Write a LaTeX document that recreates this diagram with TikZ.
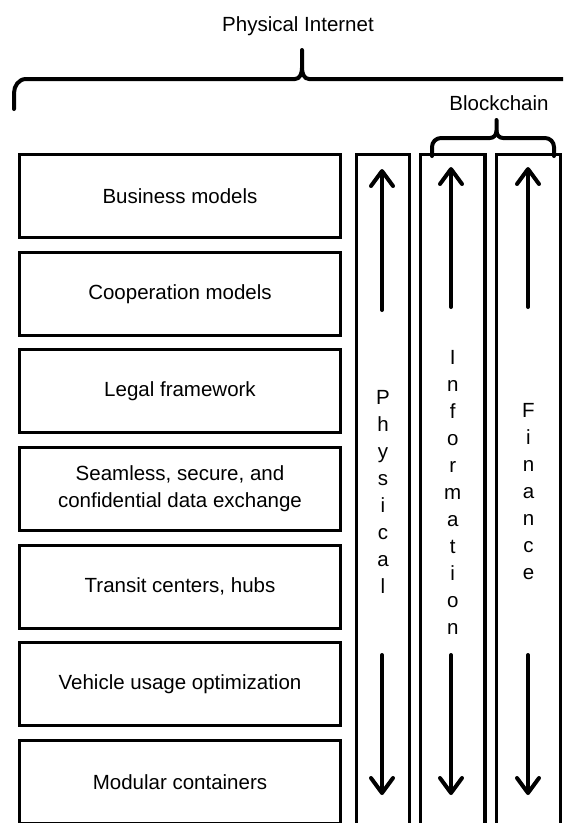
\documentclass[tikz,border=0pt]{standalone}
\usepackage{fontspec}
\setmainfont{Liberation Sans}
\usetikzlibrary{arrows.meta}
\begin{document}
\begin{tikzpicture}[x=1pt,y=-1pt,
  txt/.style={font=\fontsize{20.5}{27}\selectfont},
  lbox/.style={txt, draw, line width=3.3pt, minimum width=321pt, minimum height=83pt, inner sep=0pt, align=center},
  col/.style={txt, draw, line width=3.3pt, minimum height=675pt, inner sep=0pt, align=center},
  flow/.style={line width=4pt, line cap=round, -{Straight Barb[length=15pt,width=22pt,line cap=round,line join=round]}},
  brace/.style={line width=4pt, line cap=round, line join=round}]
\useasboundingbox (0,0) rectangle (563,823);
\clip (0,0) rectangle (563,823);

% left boxes
\node[lbox] (b1) at (180,196) {Business models};
\node[lbox] (b2) at (180,293.7) {Cooperation models};
\node[lbox] (b3) at (180,391.3) {Legal framework};
\node[lbox] (b4) at (180,489) {Seamless, secure, and\\confidential data exchange};
\node[lbox] (b5) at (180,586.7) {Transit centers, hubs};
\node[lbox] (b6) at (180,684.3) {Vehicle usage optimization};
\node[lbox] (b7) at (180,782) {Modular containers};

% columns
\node[col, minimum width=53pt] (phys) at (383,492) {P\\h\\y\\s\\i\\c\\a\\l};
\node[col, minimum width=64.5pt] (info) at (452.75,492) {I\\n\\f\\o\\r\\m\\a\\t\\i\\o\\n};
\node[col, minimum width=64pt] (fin) at (528.5,492) {F\\i\\n\\a\\n\\c\\e};

% arrows
\coordinate (pu1) at (382,310); \coordinate (pu2) at (382,169);
\coordinate (pd1) at (382,655); \coordinate (pd2) at (382,795);
\coordinate (iu1) at (451,307); \coordinate (iu2) at (451,167);
\coordinate (id1) at (451,655); \coordinate (id2) at (451,795);
\coordinate (fu1) at (528,307); \coordinate (fu2) at (528,167);
\coordinate (fd1) at (528,655); \coordinate (fd2) at (528,795);
\draw[flow] (pu1) -- (pu2);
\draw[flow] (pd1) -- (pd2);
\draw[flow] (iu1) -- (iu2);
\draw[flow] (id1) -- (id2);
\draw[flow] (fu1) -- (fu2);
\draw[flow] (fd1) -- (fd2);

% Physical Internet brace
\node[txt] (pi) at (298,26) {Physical Internet};
\coordinate (pitip) at (302,50);
\draw[brace] (14,109) -- (14,93) to[out=90,in=180] (26,79) -- (295,79)
  to[out=0,in=-90] (302,68) -- (pitip);
\draw[brace] (302,68) to[out=-90,in=180] (309,79) -- (600,79);

% Blockchain brace
\node[txt] (bc) at (499,103) {Blockchain};
\coordinate (bctip) at (496.5,120);
\draw[brace] (432,156) -- (432,147) to[out=90,in=180] (441,138) -- (490,138)
  to[out=0,in=-90] (496.5,131) -- (bctip);
\draw[brace] (496.5,131) to[out=-90,in=180] (503,138) -- (545,138)
  to[out=0,in=90] (554,147) -- (554,156);
\end{tikzpicture}
\end{document}
